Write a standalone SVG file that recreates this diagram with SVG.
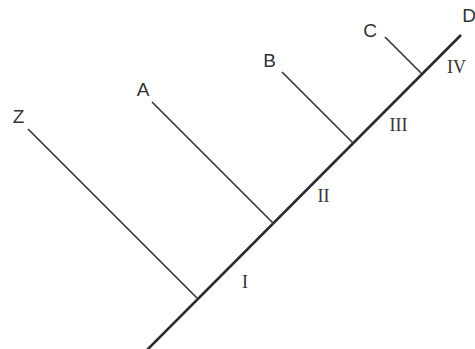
<svg xmlns="http://www.w3.org/2000/svg" width="475" height="349" viewBox="0 0 475 349">
<style>
.lbl{font-family:"Liberation Sans",Arial,sans-serif;font-size:19px;fill:#333;text-anchor:middle}
.num{font-family:"Liberation Serif","Times New Roman",serif;font-size:18px;fill:#333;text-anchor:middle}
.trunk{stroke:#2b2b2b;stroke-width:2.6;fill:none;stroke-linecap:butt}
.br{stroke:#3a3a3a;stroke-width:1.7;fill:none}
</style>
<rect width="475" height="349" fill="#ffffff"/>
<g id="connectors">
<line class="trunk" x1="146" y1="351" x2="461" y2="35"/>
<line class="br" x1="28" y1="129" x2="197" y2="298"/>
<line class="br" x1="152" y1="102" x2="274" y2="224"/>
<line class="br" x1="282" y1="72" x2="353" y2="143"/>
<line class="br" x1="385" y1="37" x2="421" y2="73"/>
</g>
<g id="node-Z"><text class="lbl" x="18.5" y="123">Z</text></g>
<g id="node-A"><text class="lbl" x="143" y="96">A</text></g>
<g id="node-B"><text class="lbl" x="269.5" y="67">B</text></g>
<g id="node-C"><text class="lbl" x="370" y="37">C</text></g>
<g id="node-D"><text class="lbl" x="469" y="22">D</text></g>
<g id="node-I"><text class="num" x="245" y="288">I</text></g>
<g id="node-II"><text class="num" x="323.5" y="202">II</text></g>
<g id="node-III"><text class="num" x="398.5" y="131">III</text></g>
<g id="node-IV"><text class="num" x="456.5" y="73">IV</text></g>
</svg>
